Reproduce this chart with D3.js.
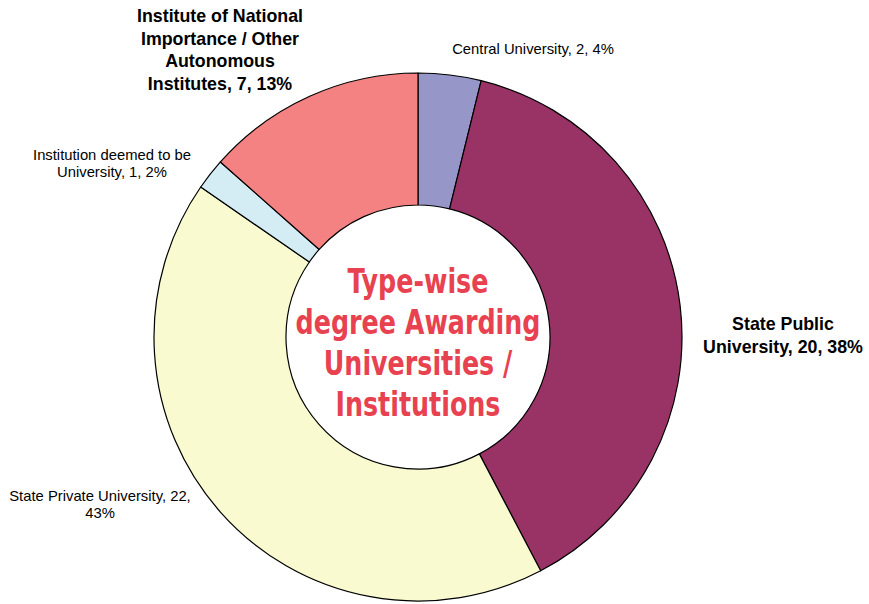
<!DOCTYPE html>
<html>
<head>
<meta charset="utf-8">
<script src="https://cdn.jsdelivr.net/npm/d3@7"></script>
<style>
  html, body { margin: 0; padding: 0; background: #ffffff; }
  svg { display: block; }
</style>
</head>
<body>
<svg id="chart" width="869" height="604"></svg>
<script>
// ---- data ----
const categories = [
  "Central University",
  "State Public University",
  "State Private University",
  "Institution deemed to be University",
  "Institute of National Importance / Other Autonomous Institutes"
];
const values = [2, 20, 22, 1, 7];
const percents = ["4%", "38%", "43%", "2%", "13%"];
const colors = ["#9696c8", "#993366", "#fafad0", "#d4edf4", "#f48282"];
const titleLines = ["Type-wise", "degree Awarding", "Universities /", "Institutions"];

// label text lines (as displayed), boldness
const labelLines = [
  ["Central University, 2, 4%"],
  ["State Public", "University, 20, 38%"],
  ["State Private University, 22,", "43%"],
  ["Institution deemed to be", "University, 1, 2%"],
  ["Institute of National", "Importance / Other", "Autonomous", "Institutes, 7, 13%"]
];
const labelBold = [false, true, false, false, true];

// ---- layout ----
const svg = d3.select("#chart");
const cx = 418, cy = 337, rOuter = 264, rInner = 132;

const pie = d3.pie().sort(null).value(d => d)(values);
const arc = d3.arc().innerRadius(rInner).outerRadius(rOuter);

const g = svg.append("g").attr("transform", `translate(${cx},${cy})`);
g.selectAll("path.slice")
  .data(pie)
  .join("path")
  .attr("class", "slice")
  .attr("d", arc)
  .attr("fill", (d, i) => colors[i])
  .attr("stroke", "#000")
  .attr("stroke-width", 1.2)
  .attr("stroke-linejoin", "round");

// labels placed outside around the ring
const labelPos = [
  { x: 533, y: 54, size: 14.8 },
  { x: 783, y: 330, size: 17.8, lh: 23 },
  { x: 100, y: 501, size: 14.8, lh: 17 },
  { x: 112, y: 160, size: 14.8, lh: 17 },
  { x: 220, y: 22, size: 17.8, lh: 22.7 }
];
labelLines.forEach((lines, i) => {
  const p = labelPos[i];
  const t = svg.append("text")
    .attr("x", p.x).attr("y", p.y)
    .attr("text-anchor", "middle")
    .attr("font-family", "Arial, 'Liberation Sans', sans-serif")
    .attr("font-size", p.size)
    .attr("font-weight", labelBold[i] ? "bold" : "normal")
    .attr("fill", "#000");
  lines.forEach((ln, j) => {
    t.append("tspan").attr("x", p.x).attr("y", p.y + j * (p.lh || 0)).text(ln);
  });
});

// center title, horizontally condensed to match reference
const title = svg.append("g");
const baselines = [293, 334, 375, 416];
const texts = titleLines.map((ln, j) =>
  title.append("text")
    .attr("x", 0).attr("y", 0)
    .attr("text-anchor", "middle")
    .attr("font-family", "'DejaVu Sans Condensed', 'DejaVu Sans', sans-serif")
    .attr("font-weight", "bold")
    .attr("font-size", 34)
    .attr("fill", "#e8414f")
    .text(ln)
);
const refLen = texts[1].node().getComputedTextLength();
const sx = 245 / refLen;
texts.forEach((t, j) => t.attr("transform", `translate(${cx},${baselines[j]}) scale(${sx},1)`));
</script>
</body>
</html>
